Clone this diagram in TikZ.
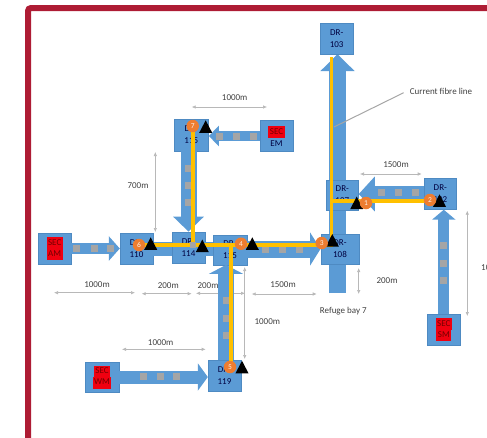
\documentclass[tikz,border=0pt]{standalone}
\usepackage{fontspec}
\setmainfont{Carlito}
\usetikzlibrary{arrows.meta,shapes.geometric}
\definecolor{frame}{HTML}{AE1C34}
\definecolor{drblue}{HTML}{5B9BD5}
\definecolor{drline}{HTML}{4E8AC2}
\definecolor{relaygrey}{HTML}{A5A5A5}
\definecolor{fibre}{HTML}{FFC000}
\definecolor{mark}{HTML}{ED7D31}
\definecolor{secred}{HTML}{F00010}
\definecolor{dimtext}{HTML}{404040}
\newcommand{\redtag}[1]{{\setlength{\fboxsep}{0pt}\colorbox{secred}{\strut\,\textcolor{red!45!black}{#1}\,}}}
\tikzset{
  drbox/.style={draw=drline,fill=drblue,minimum width=32.5pt,minimum height=31pt,inner sep=0pt,align=center,font=\fontsize{9}{12}\selectfont,text=black!75!blue},
  flow/.style n args={3}{draw=drblue,line width=#1,-{Triangle[width=#2,length=#3]}},
  link/.style={draw=drblue,line width=#1},
  relay/.style={fill=relaygrey,minimum size=7pt,inner sep=0pt},
  fibreline/.style={draw=fibre,line width=3.8pt},
  dim/.style={draw=black!28,line width=.6pt,{Latex[length=4pt,width=3.5pt]}-{Latex[length=4pt,width=3.5pt]}},
  dimlabel/.style={font=\fontsize{9}{11}\selectfont,text=dimtext,inner sep=0pt},
  alarm/.style={isosceles triangle,shape border rotate=90,isosceles triangle apex angle=55,fill=black,minimum height=12.5pt,inner sep=0pt,anchor=lower side},
  num/.style={circle,fill=mark,text=white!90!mark,minimum size=12.5pt,inner sep=0pt,font=\fontsize{7.5}{8}\selectfont}
}
\begin{document}
\begin{tikzpicture}[x=1pt,y=-1pt]
\useasboundingbox (0,0) rectangle (487,437);
\coordinate (fa) at (28,450);
\coordinate (fb) at (28,8);
\coordinate (fc) at (500,8);
\draw[frame,line width=6pt,rounded corners=3pt] (fa) -- (fb) -- (fc);
% dimension arrows
\foreach \n/\xa/\ya/\xb/\yb in {a/191.7/107/267/107,b/155.3/152/155.3/232,c/360/174/421.7/174,d/358.7/268/358.7/294,e/251.7/294/316.7/294,f/467.3/210.7/467.3/316,g/54/292.7/135/292.7,h/141.7/293.7/191.7/293.7,i/196/293.3/245/293.3,j/244.7/267/244.7/359,k/122/349.3/205.7/349.3}{
  \coordinate (d\n a) at (\xa,\ya);
  \coordinate (d\n b) at (\xb,\yb);
  \draw[dim] (d\n a) -- (d\n b);
}
\node[dimlabel] (t1) at (234.7,97.7) {1000m};
\node[dimlabel] (t2) at (138,185.7) {700m};
\node[dimlabel] (t3) at (396,164.7) {1500m};
\node[dimlabel] (t4) at (387,280.7) {200m};
\node[dimlabel] (t5) at (283,285) {1500m};
\node[dimlabel] (t6) at (267.3,321.7) {1000m};
\node[dimlabel,anchor=west] (t7) at (481,268) {1000m};
\node[dimlabel] (t8) at (97,285) {1000m};
\node[dimlabel] (t9) at (168.3,285.7) {200m};
\node[dimlabel] (t10) at (208,285.7) {200m};
\node[dimlabel] (t11) at (160.7,342.7) {1000m};
\node[dimlabel] (bay) at (343.3,311.3) {Refuge bay 7};
\node[dimlabel] (fibrenote) at (441,91.7) {Current fibre line};
% boxes
\coordinate (bay7) at (337.5,293);
\draw[flow={16.5pt}{33pt}{17pt}] (bay7) -- (bay7 |- 0,54);
\node[drbox] (dr103) at (336.7,38.4) {DR-\\103};
\node[drbox,minimum width=33pt] (secem) at (276.5,136) {\redtag{SEC}\\EM};
\node[drbox,minimum width=34.7pt,minimum height=32pt] (dr115t) at (191.3,135) {DR-\\115};
\node[drbox,minimum height=30pt] (dr107) at (342.3,195) {DR-\\107};
\node[drbox] (dr102) at (440.3,194) {DR-\\102};
\node[drbox,minimum width=38.6pt,minimum height=30pt] (dr108) at (340,249) {DR-\\108};
\node[drbox] (secsm) at (443.8,329.5) {\redtag{SEC}\\[-1pt]\redtag{SM}};
\node[drbox] (secam) at (54.7,248.5) {\redtag{SEC}\\[-1pt]\redtag{AM}};
\node[drbox,minimum width=33pt] (dr110) at (136.5,248.5) {DR-\\110};
\node[drbox,minimum width=33pt] (dr114) at (188.5,247.3) {DR-\\114};
\node[drbox,minimum width=33.7pt,minimum height=30pt] (dr115) at (230,249.7) {DR-\\115};
\node[drbox,minimum width=33pt] (dr119) at (224.5,375.3) {DR-\\119};
\node[drbox,minimum width=33.7pt,minimum height=30pt] (secwm) at (102,377) {\redtag{SEC}\\[-1pt]\redtag{WM}};
% arrows between boxes
\draw[flow={11.5pt}{24pt}{11pt}] (secam.east) -- (dr110.west);
\draw[link=14pt] (dr110.east) -- (dr110.east -| dr114.west);
\draw[link=14pt] (dr114.east |- dr110.east) -- (dr115.west |- dr110.east);
\draw[flow={17pt}{33pt}{10.5pt}] (dr115.east |- dr108.west) -- (dr108.west);
\draw[flow={16pt}{30pt}{15pt}] (dr115t.south -| dr114.north) -- (dr114.north);
\draw[flow={10.5pt}{20pt}{10pt}] (secem.west) -- (secem.west -| dr115t.east);
\draw[flow={15.5pt}{34pt}{16pt}] (dr102.west) -- (dr102.west -| dr107.east);
\draw[flow={11pt}{23pt}{10pt}] (secsm.north) -- (secsm.north |- dr102.south);
\draw[flow={16pt}{34pt}{9pt}] ([xshift=1.5pt]dr119.north) -- ([xshift=1.5pt]dr119.north |- dr115.south);
\draw[flow={13pt}{27pt}{10pt}] (secwm.east) -- (secwm.east -| dr119.west);
% grey squares on the arrows
\foreach \n/\x/\y in {1/76/248,2/94/248,3/110/248,4/265/249,5/282/249,6/299/249,7/188.7/168,8/188.7/185,9/188.7/202,10/219/136,11/236/136,12/253/136,13/381.7/192.7,14/398.7/192.7,15/415/192.7,16/443/245,17/443/263,18/443/280,19/226/300.7,20/226/318.7,21/226/335,22/143/376,23/160.7/376,24/176.7/376}{
  \node[relay] (s\n) at (\x,\y) {};
}
% leader line
\coordinate (lead) at (334,127);
\draw[draw=black!35,line width=1pt] (fibrenote.west) ++(-6,1) -- (lead);
% fibre
\coordinate (f103) at (331.5,57);
\coordinate (f108) at (331.5,245);
\coordinate (f107) at (331.5,201);
\coordinate (f102) at (430,201);
\coordinate (f110) at (140,245);
\coordinate (f115) at (193,125);
\coordinate (f114) at (193,245);
\coordinate (f115b) at (230.7,245);
\coordinate (f119) at (230.7,367);
\draw[fibreline] (f103) -- (f108) -- (f110);
\draw[fibreline] (f107) -- (f102);
\draw[fibreline] (f115) -- (f114);
\draw[fibreline] (f115b) -- (f119);
\node[relay,minimum size=6pt] (s25) at (193,245) {};
% alarms
\foreach \n/\x/\y in {a/356.7/209.3,b/439.5/207,c/332.3/246.7,d/252.3/250,e/242/373.5,f/150.7/250,g/205.7/133,h/202.3/252.3}{
  \node[alarm] (al\n) at (\x,\y) {};
}
% numbers
\node[num] (n1) at (366,203) {1};
\node[num] (n2) at (430,200) {2};
\node[num] (n3) at (321.7,243) {3};
\node[num] (n4) at (241,243.7) {4};
\node[num] (n5) at (230,367) {5};
\node[num] (n6) at (139,245) {6};
\node[num] (n7) at (192.7,126) {7};
\end{tikzpicture}
\end{document}
